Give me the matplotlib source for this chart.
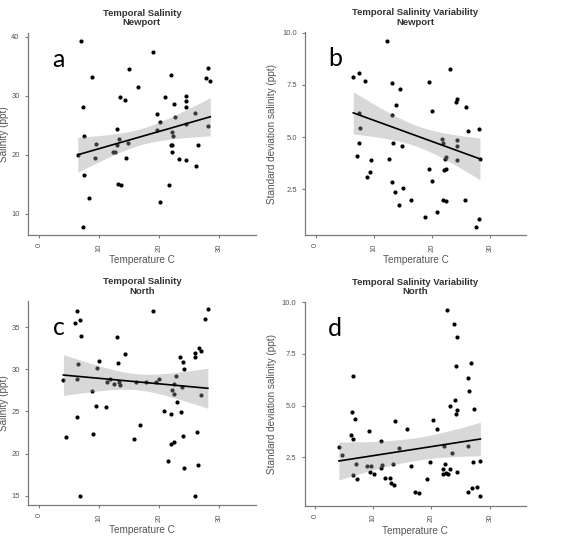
import matplotlib
matplotlib.use("Agg")
import matplotlib.pyplot as plt
import numpy as np

plt.rcParams['font.family'] = ['Liberation Sans', 'DejaVu Sans']

# panel a: Newport salinity
a_temp = [7.0, 19.1, 15.1, 8.8, 22.0, 28.3, 27.9, 28.6, 16.5, 21.1, 13.6, 14.4, 7.4,
          22.6, 24.5, 24.6, 24.6, 19.7, 20.2, 22.7, 26.1, 28.3, 7.6, 13.1, 13.3, 9.6,
          19.7, 22.3, 22.4, 22.0, 22.3, 26.5, 14.8, 13.1, 6.5, 12.4, 12.7, 9.4, 14.6,
          22.2, 23.4, 24.6, 26.2, 7.6, 13.2, 13.7, 21.7, 8.4, 20.2, 7.4, 24.5]
a_sal = [39.3, 37.3, 34.5, 33.2, 33.5, 34.7, 32.9, 32.5, 31.5, 29.7, 29.7, 29.3, 28.0,
         28.5, 29.9, 29.0, 28.1, 26.9, 25.6, 26.3, 27.1, 24.9, 23.1, 24.4, 22.6, 21.8,
         24.1, 23.8, 23.1, 21.7, 21.7, 21.6, 22.0, 21.6, 19.9, 20.4, 20.5, 19.5, 19.5,
         20.4, 19.2, 19.1, 18.0, 16.6, 15.1, 14.9, 14.9, 12.7, 12.0, 7.8, 25.2]

# panel b: Newport salinity variability
b_temp = [12.3, 6.5, 7.4, 8.5, 23.2, 13.2, 19.5, 14.5, 13.8, 20.1, 24.2, 24.4, 25.9,
          7.5, 13.1, 7.7, 26.2, 28.1, 7.5, 13.3, 14.8, 21.7, 21.9, 24.4, 24.4, 7.1,
          9.5, 12.6, 22.3, 22.5, 24.3, 28.3, 9.4, 8.8, 19.5, 22.1, 22.5, 20.0, 13.1,
          13.6, 15.0, 16.5, 21.9, 22.4, 25.8, 14.3, 20.9, 18.9, 28.1, 27.7]
b_sd = [9.63, 7.88, 8.07, 7.70, 8.28, 7.57, 7.64, 7.32, 6.53, 6.27, 6.69, 6.82, 6.45,
        6.14, 6.06, 5.45, 5.31, 5.39, 4.70, 4.73, 4.57, 4.89, 4.70, 4.84, 4.58, 4.07,
        3.91, 3.97, 3.97, 4.05, 3.91, 3.93, 3.30, 3.08, 3.46, 3.44, 3.46, 2.91, 2.83,
        2.38, 2.57, 2.00, 1.98, 1.95, 1.96, 1.72, 1.39, 1.16, 1.08, 0.70]

# panel c: North salinity
c_temp = [6.3, 6.1, 6.9, 7.1, 19.1, 28.2, 27.7, 26.8, 27.0, 26.1, 26.0, 23.5, 13.0,
          14.4, 13.2, 10.1, 9.7, 6.5, 24.0, 24.2, 4.1, 6.4, 11.3, 11.8, 12.6, 13.4,
          13.6, 16.2, 17.8, 19.5, 20.1, 22.9, 22.6, 23.9, 22.3, 22.5, 27.1, 8.9, 23.0,
          9.5, 11.2, 20.8, 23.7, 22.0, 6.4, 16.8, 4.6, 9.1, 15.8, 24.1, 26.4, 22.0,
          22.5, 21.6, 26.6, 24.2, 6.8, 26.0]
c_sal = [36.85, 35.5, 35.8, 33.9, 36.9, 37.1, 36.0, 32.5, 32.2, 31.9, 31.45, 31.5, 33.8,
         31.8, 30.7, 31.0, 30.1, 30.6, 30.8, 30.0, 28.7, 28.8, 28.5, 28.8, 28.3, 28.5,
         28.1, 28.5, 28.5, 28.5, 28.9, 29.2, 28.2, 27.9, 27.5, 27.1, 27.0, 27.4, 26.1,
         25.7, 25.5, 25.0, 24.9, 24.7, 24.35, 23.4, 22.0, 22.3, 21.8, 22.1, 22.6, 21.15,
         21.4, 19.1, 18.7, 18.3, 15.0, 15.0]

# panel d: North salinity variability
d_temp = [22.7, 23.9, 24.4, 24.2, 26.8, 26.2, 6.5, 24.0, 26.5, 27.3, 24.3, 24.2, 23.1,
          6.4, 6.9, 13.8, 20.2, 20.9, 15.8, 9.2, 6.1, 6.5, 11.4, 14.4, 4.1, 22.1, 26.2,
          23.6, 4.7, 7.1, 9.7, 9.0, 11.5, 11.4, 13.4, 16.4, 19.7, 22.4, 21.9, 23.1, 22.5,
          22.8, 22.0, 24.3, 27.2, 28.4, 9.5, 10.2, 6.6, 7.2, 12.1, 12.8, 13.1, 13.5, 19.2,
          17.1, 17.9, 26.2, 27.0, 27.8, 28.3]
d_sd = [9.63, 8.94, 8.31, 6.89, 7.05, 6.33, 6.43, 5.28, 5.69, 4.83, 4.80, 4.58, 4.96,
        4.69, 4.37, 4.25, 4.32, 3.85, 3.87, 3.75, 3.59, 3.37, 3.27, 2.97, 2.98, 3.03, 3.03,
        2.69, 2.61, 2.18, 2.10, 2.06, 2.13, 1.98, 2.16, 2.10, 2.26, 2.19, 1.95, 1.95, 1.74,
        1.68, 1.69, 1.78, 2.26, 2.34, 1.78, 1.69, 1.65, 1.45, 1.49, 1.52, 1.24, 1.16, 1.45,
        0.84, 0.78, 0.83, 1.00, 1.07, 0.62]

# lm fit: intercept, slope
fit_a = (18.09, 0.291)
fit_b = (6.82, -0.1013)
fit_c = (29.58, -0.065)
fit_d = (2.142, 0.0437)
# confidence band: x of narrowest point, half width there, spread term
band_a = (17.0, 1.37, 29.6)
band_b = (17.5, 0.50, 38.9)
band_c = (16.3, 0.95, 27.0)
band_d = (17.5, 0.55, 100.0)

panels = [
    ("a", "Temporal Salinity\nNewport", "Salinity (ppt)", a_temp, a_sal, fit_a, band_a,
     [10, 20, 30, 40], (6.4, 40.6), [0.0495, 0.5696, 0.4025, 0.370]),
    ("b", "Temporal Salinity Variability\nNewport", "Standard deviation salinity (ppt)",
     b_temp, b_sd, fit_b, band_b, [2.5, 5.0, 7.5, 10.0], (0.3, 10.02),
     [0.539, 0.5696, 0.390, 0.371]),
    ("c", "Temporal Salinity\nNorth", "Salinity (ppt)", c_temp, c_sal, fit_c, band_c,
     [15, 20, 25, 30, 35], (13.93, 38.04), [0.0495, 0.0751, 0.4025, 0.373]),
    ("d", "Temporal Salinity Variability\nNorth", "Standard deviation salinity (ppt)",
     d_temp, d_sd, fit_d, band_d, [2.5, 5.0, 7.5, 10.0], (0.16, 10.0),
     [0.538, 0.0738, 0.391, 0.373]),
]

grey = "#7a7a7a"
fig = plt.figure(figsize=(5.66, 5.46), dpi=100)

for letter, title, ylab, xs, ys, fit, band, yt, ylim, pos in panels:
    x = np.array(xs)
    y = np.array(ys)
    ax = fig.add_axes(pos)
    ax.scatter(x, y, s=9, color="black", zorder=2, linewidths=0)

    # regression line + confidence band (geom_smooth style, drawn over the points)
    xx = np.linspace(x.min(), x.max(), 80)
    yy = fit[0] + fit[1] * xx
    x0, hw0, v = band
    hw = hw0 * np.sqrt(1 + (xx - x0) ** 2 / v)
    ax.fill_between(xx, yy - hw, yy + hw, color="#999999", alpha=0.38,
                    linewidth=0, zorder=3)
    ax.plot(xx, yy, color="black", lw=1.2, zorder=4)

    ax.set_xlim(-1.8, 36.2)
    ax.set_ylim(*ylim)
    ax.set_xticks([0, 10, 20, 30])
    ax.set_yticks(yt)
    if yt[0] == 2.5:
        ax.set_yticklabels(["%.1f" % t for t in yt])
    for side in ["top", "right"]:
        ax.spines[side].set_visible(False)
    for side in ["left", "bottom"]:
        ax.spines[side].set_color(grey)
        ax.spines[side].set_linewidth(0.9)
    ax.tick_params(colors=grey, labelcolor="#555555", labelsize=5.5, length=2.5, width=0.8)
    plt.setp(ax.get_xticklabels(), rotation=90)

    ax.set_title(title, fontsize=6.8, fontweight="bold", color="#333333", pad=5.5,
                 linespacing=1.05)
    ax.set_xlabel("Temperature C", fontsize=7.2, color="#555555")
    ax.xaxis.set_label_coords(0.5, -0.10)
    ax.set_ylabel(ylab, fontsize=7.2, color="#555555")
    ax.yaxis.set_label_coords(-0.085 if letter in "ac" else -0.125, 0.5)

    ax.text(0.135, 0.87, letter, transform=ax.transAxes, fontsize=18,
            family="Lato", color="black", ha="center", va="center")

plt.savefig("out.png", dpi=100)
